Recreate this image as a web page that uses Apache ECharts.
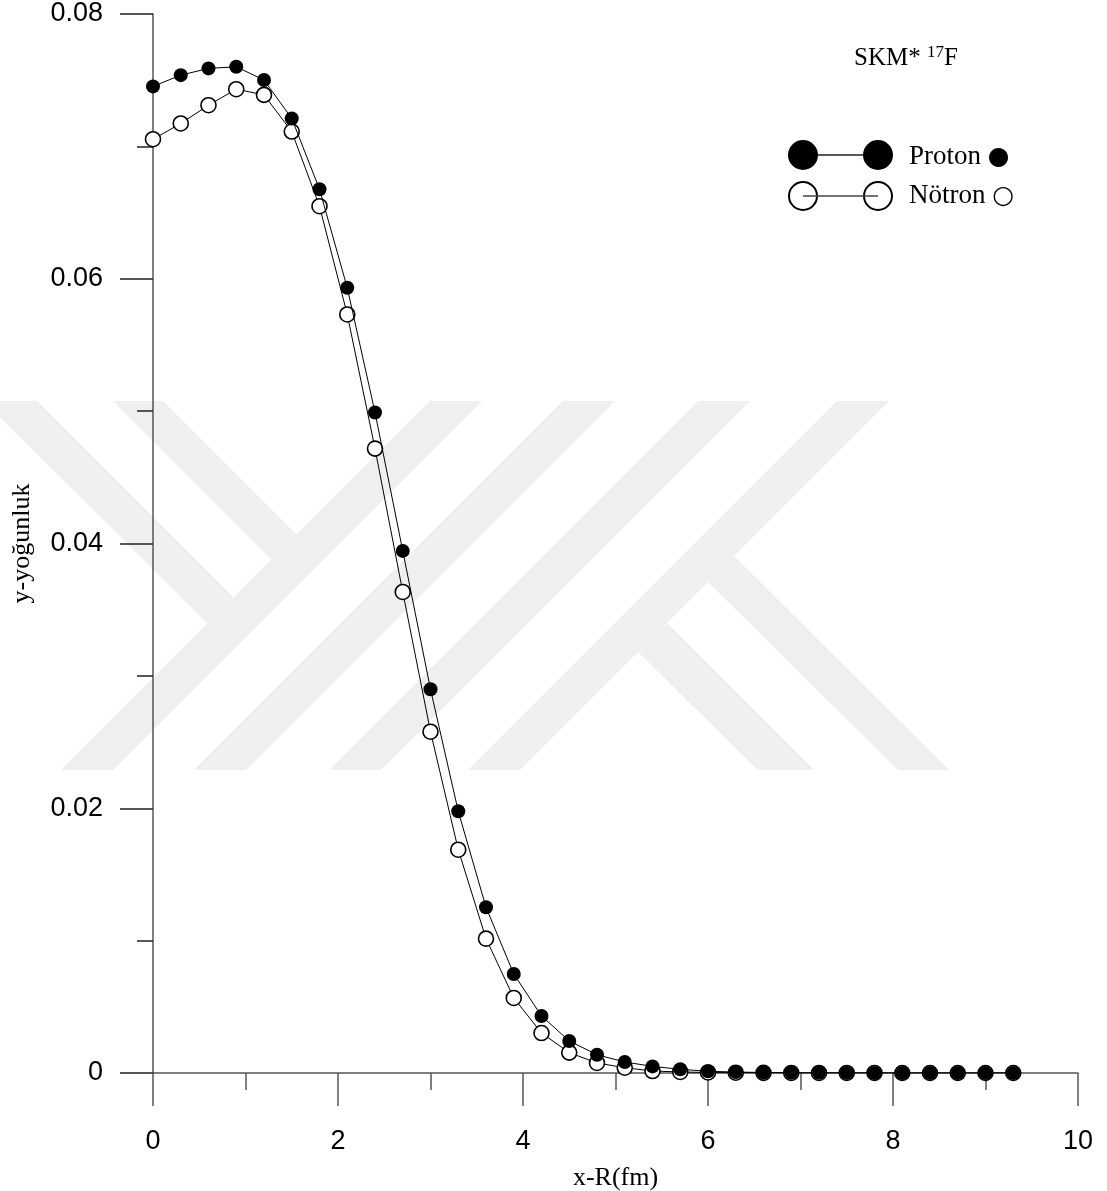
<!DOCTYPE html>
<html>
<head>
<meta charset="utf-8">
<script src="https://cdn.jsdelivr.net/npm/echarts@6/dist/echarts.min.js"></script>
<style>
html,body{margin:0;padding:0;background:#fff;}
#chart{width:1107px;height:1191px;}
</style>
</head>
<body>
<div id="chart"></div>
<script>
// x positions (fm)
var xValues = [0,0.3,0.6,0.9,1.2,1.5,1.8,2.1,2.4,2.7,3.0,3.3,3.6,3.9,4.2,4.5,4.8,5.1,5.4,5.7,6.0,6.3,6.6,6.9,7.2,7.5,7.8,8.1,8.4,8.7,9.0,9.3];
var protonValues = [0.07453,0.07538,0.07589,0.07601,0.07501,0.07211,0.06676,0.05932,0.04990,0.03944,0.02899,0.01977,0.01252,0.00748,0.00431,0.00242,0.00138,0.00083,0.00050,0.00028,0.00013,0.00007,0.00004,0.00002,0.00001,0.000006,0.000003,0.000002,0.000001,0.0000005,0.0000003,0.0000001];
var neutronValues = [0.07054,0.07173,0.07311,0.07432,0.07389,0.07112,0.06548,0.05730,0.04717,0.03634,0.02578,0.01687,0.01015,0.00567,0.00302,0.00154,0.00076,0.00040,0.00015,0.00008,0.00004,0.00002,0.00001,0.000005,0.000002,0.000001,0.0000005,0.0000002,0.0000001,0,0,0];
var legendNames = ['Proton', 'N\u00F6tron'];
var legendGlyphs = ['\u25CF', '\u25CB'];
var titleText = ['SKM* ', '17', 'F'];
var xAxisName = 'x-R(fm)';
var yAxisName = 'y-yo\u011Funluk';

function pairs(xs, ys){ return xs.map(function(x,i){ return [x, ys[i]]; }); }

var wm = '#efefef';
function poly(pts){ return {type:'polygon', silent:true, z:-10, shape:{points:pts}, style:{fill:wm}}; }
var watermark = [
  poly([[430,401],[482,401],[113,770],[61,770]]),
  poly([[563,401],[615,401],[246,770],[194,770]]),
  poly([[698,401],[750,401],[381,770],[329,770]]),
  poly([[837,401],[889,401],[520,770],[468,770]]),
  poly([[113,401],[163,401],[297,535],[272,560]]),
  poly([[-16,401],[37,401],[234,598],[208,624]]),
  poly([[734,556],[949,770],[898,770],[708,582]]),
  poly([[667,623],[814,770],[758,770],[638,652]])
];

var serif = 'Liberation Serif';
var sans = 'Liberation Sans';
var legendGraphics = [
  {type:'line', z:20, shape:{x1:803,y1:155,x2:878,y2:155}, style:{stroke:'#222',lineWidth:1.5}},
  {type:'circle', z:21, shape:{cx:803,cy:155,r:15}, style:{fill:'#000'}},
  {type:'circle', z:21, shape:{cx:878,cy:155,r:15}, style:{fill:'#000'}},
  {type:'circle', z:21, shape:{cx:803,cy:196,r:14}, style:{fill:'#fff',stroke:'#000',lineWidth:2}},
  {type:'circle', z:21, shape:{cx:878,cy:196,r:14}, style:{fill:'#fff',stroke:'#000',lineWidth:2}},
  {type:'line', z:22, shape:{x1:803,y1:196,x2:878,y2:196}, style:{stroke:'#444',lineWidth:1.5}},
  {type:'text', z:22, x:909, y:157, style:{
    text:'{t|'+legendNames[0]+' }{g|'+legendGlyphs[0]+'}', textVerticalAlign:'middle',
    rich:{t:{fontFamily:serif, fontSize:27, fill:'#000'}, g:{fontFamily:'DejaVu Sans', fontSize:25, fill:'#000'}}
  }},
  {type:'text', z:22, x:909, y:196, style:{
    text:'{t|'+legendNames[1]+' }{g|'+legendGlyphs[1]+'}', textVerticalAlign:'middle',
    rich:{t:{fontFamily:serif, fontSize:27, fill:'#000'}, g:{fontFamily:'DejaVu Sans', fontSize:25, fill:'#000'}}
  }},
  {type:'text', z:22, x:906, y:58, style:{
    text:'{n|'+titleText[0]+'}{s|'+titleText[1]+'}{n|'+titleText[2]+'}',
    textAlign:'center', textVerticalAlign:'middle',
    rich:{
      n:{fontFamily:serif, fontSize:25, fill:'#000'},
      s:{fontFamily:serif, fontSize:17, fill:'#000', padding:[0,0,10,0]}
    }
  }}
];

var axisColor = '#555';
var chart = echarts.init(document.getElementById('chart'), null, {renderer:'canvas'});
chart.setOption({
  backgroundColor:'#fff',
  animation:false,
  grid:{left:153, right:29, top:14, bottom:118, outerBoundsMode:'none', containLabel:false},
  graphic: watermark.concat(legendGraphics),
  xAxis:{
    type:'value', min:0, max:10, interval:2,
    name:xAxisName, nameLocation:'middle', nameGap:92,
    nameTextStyle:{fontFamily:serif, fontSize:26, color:'#000'},
    axisLine:{show:true, lineStyle:{color:axisColor, width:1.5}},
    axisTick:{show:true, inside:false, length:33, lineStyle:{color:axisColor, width:1.5}},
    minorTick:{show:true, splitNumber:2, length:17, lineStyle:{color:axisColor, width:1.5}},
    splitLine:{show:false},
    axisLabel:{fontFamily:sans, fontSize:27, color:'#000', margin:55}
  },
  yAxis:{
    type:'value', min:0, max:0.08, interval:0.02,
    name:yAxisName, nameLocation:'middle', nameGap:118, nameRotate:90,
    nameTextStyle:{fontFamily:serif, fontSize:26, color:'#000'},
    axisLine:{show:true, onZero:false, lineStyle:{color:axisColor, width:1.5}},
    axisTick:{show:true, inside:false, length:33, lineStyle:{color:'#222', width:1.5}},
    minorTick:{show:true, splitNumber:2, length:16, lineStyle:{color:'#222', width:1.5}},
    splitLine:{show:false},
    axisLabel:{fontFamily:sans, fontSize:27, color:'#000', margin:50}
  },
  series:[
    {
      name:'Nötron', type:'line', data:pairs(xValues, neutronValues),
      symbol:'circle', symbolSize:15, showAllSymbol:true, z:3,
      lineStyle:{color:'#000', width:1},
      itemStyle:{color:'#fff', borderColor:'#000', borderWidth:1.6}
    },
    {
      name:'Proton', type:'line', data:pairs(xValues, protonValues),
      symbol:'circle', symbolSize:14, showAllSymbol:true, z:4,
      lineStyle:{color:'#000', width:1},
      itemStyle:{color:'#000', borderColor:'#000', borderWidth:0}
    }
  ]
});
</script>
</body>
</html>
